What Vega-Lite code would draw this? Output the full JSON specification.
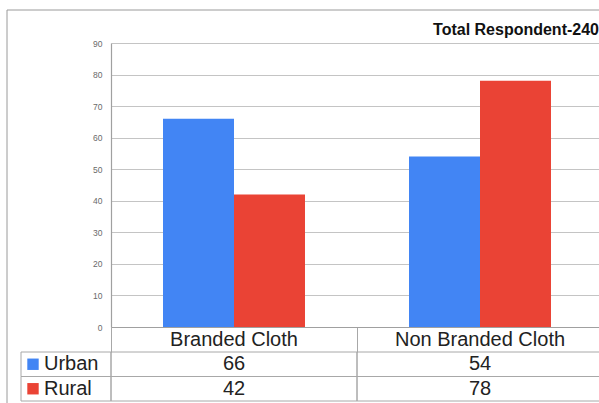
{
  "$schema": "https://vega.github.io/schema/vega-lite/v6.json",
  "width": 488,
  "height": 284,
  "autosize": {"type": "none"},
  "padding": {"left": 111, "top": 43, "right": 0, "bottom": 76},
  "background": "white",
  "config": {
    "view": {"stroke": null},
    "font": "Liberation Sans"
  },
  "title": {
    "text": "Total Respondent-240",
    "anchor": "end",
    "frame": "group",
    "fontSize": 16,
    "fontWeight": "bold",
    "color": "#111111",
    "font": "Liberation Sans",
    "baseline": "alphabetic",
    "offset": -41
  },
  "datasets": {
    "survey": [
      {"cloth": "Branded Cloth", "area": "Urban", "respondents": 66},
      {"cloth": "Branded Cloth", "area": "Rural", "respondents": 42},
      {"cloth": "Non Branded Cloth", "area": "Urban", "respondents": 54},
      {"cloth": "Non Branded Cloth", "area": "Rural", "respondents": 78}
    ]
  },
  "layer": [
    {
      "data": {"values": [{}]},
      "mark": {"type": "rect", "fillOpacity": 0, "fill": "white", "stroke": "#9a9a9a", "strokeWidth": 1},
      "encoding": {
        "x": {"datum": 0, "type": "quantitative", "scale": {"domain": [0, 1], "range": [-104, 620], "zero": false}, "axis": null},
        "x2": {"datum": 1},
        "y": {"datum": 0, "type": "quantitative", "scale": {"domain": [0, 1], "range": [-33, 420], "zero": false}, "axis": null},
        "y2": {"datum": 1}
      }
    },
    {
      "data": {"name": "survey"},
      "mark": {"type": "bar"},
      "encoding": {
        "x": {
          "field": "cloth", "type": "nominal", "sort": null,
          "scale": {"type": "band", "range": [0, 492], "paddingInner": 0.4228, "paddingOuter": 0.2114},
          "axis": {
            "orient": "bottom", "title": null, "domain": false, "ticks": false, "tickSize": 0,
            "labelFontSize": 20, "labelColor": "#222222", "labelBaseline": "alphabetic",
            "labelPadding": 18.5, "labelAngle": 0
          }
        },
        "xOffset": {"field": "area", "type": "nominal", "sort": ["Urban", "Rural"], "scale": {"paddingInner": 0, "paddingOuter": 0}},
        "y": {
          "field": "respondents", "type": "quantitative",
          "scale": {"domain": [0, 90], "nice": false},
          "axis": {
            "title": null, "values": [0, 10, 20, 30, 40, 50, 60, 70, 80, 90],
            "grid": true, "gridColor": "#c4c4c4", "gridWidth": 1.2,
            "domain": true, "domainColor": "#a0a0a0", "domainWidth": 1.2,
            "ticks": false, "tickSize": 0,
            "labelFontSize": 8.5, "labelColor": "#6a6a6a", "labelPadding": 9
          }
        },
        "color": {
          "field": "area", "type": "nominal", "sort": ["Urban", "Rural"],
          "scale": {"domain": ["Urban", "Rural"], "range": ["#4285f4", "#ea4335"]},
          "legend": null
        }
      }
    },
    {
      "data": {"name": "survey"},
      "encoding": {
        "x": {
          "field": "cloth", "type": "nominal", "sort": null,
          "scale": {"type": "band", "range": [0, 492], "paddingInner": 0, "paddingOuter": 0},
          "axis": {
            "orient": "bottom", "title": null, "labels": false,
            "domain": true, "domainColor": "#a0a0a0", "domainWidth": 1.2,
            "ticks": true, "tickBand": "extent", "tickSize": 25, "tickColor": "#a8a8a8", "tickWidth": 1
          }
        },
        "y": {
          "field": "area", "type": "nominal", "sort": ["Urban", "Rural"],
          "scale": {"type": "band", "domain": ["Urban", "Rural"], "range": [309, 358], "paddingInner": 0, "paddingOuter": 0},
          "axis": null
        }
      },
      "layer": [
        {"mark": {"type": "rect", "fillOpacity": 0, "fill": "white", "stroke": "#a8a8a8", "strokeWidth": 1}},
        {
          "mark": {"type": "text", "fontSize": 20, "color": "#222222", "baseline": "middle"},
          "encoding": {"text": {"field": "respondents", "type": "quantitative"}}
        }
      ]
    },
    {
      "data": {"name": "survey"},
      "transform": [{"aggregate": [{"op": "count", "as": "n"}], "groupby": ["area"]}],
      "encoding": {
        "x": {
          "datum": "area", "type": "nominal",
          "scale": {"type": "band", "domain": ["area"], "range": [-90, 0], "paddingInner": 0, "paddingOuter": 0},
          "axis": null
        },
        "y": {
          "field": "area", "type": "nominal", "sort": ["Urban", "Rural"],
          "scale": {"type": "band", "domain": ["Urban", "Rural"], "range": [309, 358], "paddingInner": 0, "paddingOuter": 0},
          "axis": null
        }
      },
      "layer": [
        {"mark": {"type": "rect", "fillOpacity": 0, "fill": "white", "stroke": "#a8a8a8", "strokeWidth": 1}},
        {
          "mark": {"type": "square", "size": 130, "filled": true, "opacity": 1, "xOffset": -33},
          "encoding": {"color": {"field": "area", "type": "nominal", "legend": null}}
        },
        {
          "mark": {"type": "text", "fontSize": 20, "align": "left", "baseline": "middle", "color": "#222222", "xOffset": -22},
          "encoding": {"text": {"field": "area", "type": "nominal"}}
        }
      ]
    }
  ],
  "resolve": {"scale": {"x": "independent", "y": "independent"}}
}
